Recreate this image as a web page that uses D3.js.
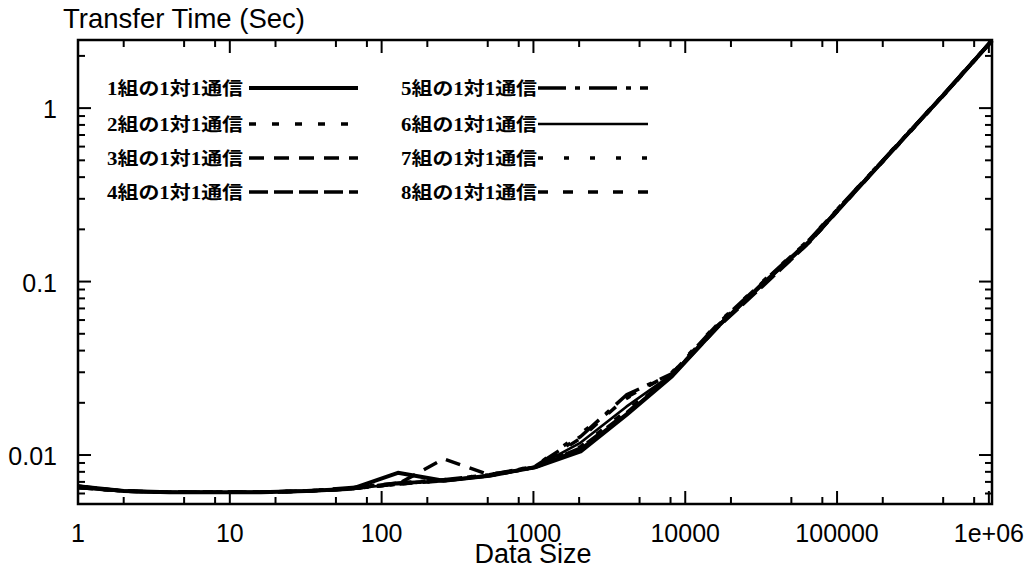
<!DOCTYPE html>
<html>
<head>
<meta charset="utf-8">
<script src="https://cdn.jsdelivr.net/npm/d3@7"></script>
<style>
  html, body { margin: 0; padding: 0; background: #fff; }
  svg { display: block; }
</style>
</head>
<body>
<svg id="chart" width="1033" height="576"></svg>
<script>
// Message sizes (bytes): powers of two from 1 to 2^20
const sizes = [1, 2, 4, 8, 16, 32, 64, 128, 256, 512, 1024, 2048, 4096, 8192,
  16384, 32768, 65536, 131072, 262144, 524288, 1048576];

// Transfer time (sec) for N simultaneous one-to-one pairs
const pairs1 = [0.0066, 0.0062, 0.0061, 0.0061, 0.0061, 0.0062, 0.0064, 0.0079, 0.0071, 0.0076, 0.0085, 0.0105, 0.0170, 0.0285, 0.0550, 0.0980, 0.170, 0.330, 0.640, 1.24, 2.45];
const pairs2 = [0.0065, 0.0062, 0.0061, 0.0061, 0.0061, 0.0062, 0.0064, 0.0068, 0.0071, 0.0076, 0.0085, 0.0112, 0.0180, 0.0290, 0.0560, 0.0960, 0.168, 0.328, 0.635, 1.23, 2.44];
const pairs3 = [0.0065, 0.0062, 0.0061, 0.0061, 0.0061, 0.0062, 0.0064, 0.0068, 0.0095, 0.0077, 0.0085, 0.0110, 0.0175, 0.0290, 0.0550, 0.0990, 0.172, 0.332, 0.640, 1.24, 2.45];
const pairs4 = [0.0066, 0.0062, 0.0061, 0.0061, 0.0061, 0.0062, 0.0064, 0.0069, 0.0071, 0.0076, 0.0085, 0.0108, 0.0172, 0.0288, 0.0545, 0.0950, 0.168, 0.330, 0.642, 1.24, 2.46];
const pairs5 = [0.0065, 0.0062, 0.0061, 0.0061, 0.0061, 0.0062, 0.0065, 0.0069, 0.0072, 0.0077, 0.0086, 0.0128, 0.0222, 0.0295, 0.0570, 0.1000, 0.174, 0.335, 0.645, 1.25, 2.46];
const pairs6 = [0.0065, 0.0062, 0.0061, 0.0061, 0.0061, 0.0062, 0.0064, 0.0068, 0.0071, 0.0076, 0.0085, 0.0118, 0.0190, 0.0292, 0.0560, 0.0970, 0.170, 0.330, 0.640, 1.24, 2.45];
const pairs7 = [0.0065, 0.0062, 0.0061, 0.0061, 0.0061, 0.0062, 0.0064, 0.0068, 0.0072, 0.0077, 0.0086, 0.0133, 0.0212, 0.0300, 0.0575, 0.1010, 0.175, 0.336, 0.648, 1.25, 2.47];
const pairs8 = [0.0066, 0.0062, 0.0061, 0.0061, 0.0061, 0.0062, 0.0064, 0.0068, 0.0071, 0.0076, 0.0085, 0.0125, 0.0215, 0.0296, 0.0565, 0.0990, 0.172, 0.333, 0.643, 1.24, 2.46];

const seriesNames = ["1組の1対1通信", "2組の1対1通信", "3組の1対1通信", "4組の1対1通信",
  "5組の1対1通信", "6組の1対1通信", "7組の1対1通信", "8組の1対1通信"];

// Axis tick labels
const xTickValues = [1, 10, 100, 1000, 10000, 100000, 1000000];
const xTickLabels = ["1", "10", "100", "1000", "10000", "100000", "1e+06"];
const yTickValues = [0.01, 0.1, 1];
const yTickLabels = ["0.01", "0.1", "1"];

const allSeries = [pairs1, pairs2, pairs3, pairs4, pairs5, pairs6, pairs7, pairs8];

// line styles per series (dash pattern, width)
const styles = [
  { dash: null, w: 4 },
  { dash: "7,16", w: 3.5 },
  { dash: "15,10", w: 3.5 },
  { dash: "19,6", w: 3.5 },
  { dash: "28,9,5,9", w: 3.5 },
  { dash: null, w: 2.6 },
  { dash: "5,21", w: 3.5 },
  { dash: "10,15", w: 3.5 }
];

const svg = d3.select("#chart");
const plotLeft = 78, plotRight = 992, plotTop = 40, plotBottom = 504;

const x = d3.scaleLog().domain([1, 1048576]).range([plotLeft, plotRight]);
const y = d3.scaleLog().domain([0.00522, 2.47]).range([plotBottom, plotTop]);

// minor ticks
const xMinor = [];
for (let e = 0; e <= 6; e++) for (const m of [2, 5, 8]) {
  const v = m * Math.pow(10, e);
  if (v < 1048576) xMinor.push(v);
}
const yMinor = [];
for (let e = -3; e <= 0; e++) for (let m = 2; m <= 9; m++) {
  const v = m * Math.pow(10, e);
  if (v > 0.00522 && v < 2.47) yMinor.push(v);
}

const axisG = svg.append("g").attr("stroke", "#000").attr("stroke-width", 2);
const MAJ = 13, MIN = 7;
// bottom and top ticks
xTickValues.forEach(v => {
  const px = x(v);
  axisG.append("line").attr("x1", px).attr("x2", px).attr("y1", plotBottom).attr("y2", plotBottom - MAJ);
  axisG.append("line").attr("x1", px).attr("x2", px).attr("y1", plotTop).attr("y2", plotTop + MAJ);
});
xMinor.forEach(v => {
  const px = x(v);
  axisG.append("line").attr("x1", px).attr("x2", px).attr("y1", plotBottom).attr("y2", plotBottom - MIN);
  axisG.append("line").attr("x1", px).attr("x2", px).attr("y1", plotTop).attr("y2", plotTop + MIN);
});
// left and right ticks
yTickValues.forEach(v => {
  const py = y(v);
  axisG.append("line").attr("x1", plotLeft).attr("x2", plotLeft + MAJ).attr("y1", py).attr("y2", py);
  axisG.append("line").attr("x1", plotRight).attr("x2", plotRight - MAJ).attr("y1", py).attr("y2", py);
});
yMinor.forEach(v => {
  const py = y(v);
  axisG.append("line").attr("x1", plotLeft).attr("x2", plotLeft + MIN).attr("y1", py).attr("y2", py);
  axisG.append("line").attr("x1", plotRight).attr("x2", plotRight - MIN).attr("y1", py).attr("y2", py);
});

// tick labels
const labelFont = "'Liberation Sans', Arial, Helvetica, sans-serif";
svg.append("g").selectAll("text").data(xTickValues).join("text")
  .attr("x", d => x(d)).attr("y", 542)
  .attr("text-anchor", "middle")
  .attr("font-family", labelFont).attr("font-size", 25)
  .text((d, i) => xTickLabels[i]);
svg.append("g").selectAll("text").data(yTickValues).join("text")
  .attr("x", 57).attr("y", d => y(d) + 10)
  .attr("text-anchor", "end")
  .attr("font-family", labelFont).attr("font-size", 25)
  .text((d, i) => yTickLabels[i]);

// axis titles
svg.append("text").attr("x", 63).attr("y", 28)
  .attr("font-family", labelFont).attr("font-size", 27.5)
  .text("Transfer Time (Sec)");
svg.append("text").attr("x", 533).attr("y", 563)
  .attr("text-anchor", "middle")
  .attr("font-family", labelFont).attr("font-size", 27)
  .text("Data Size");

// data lines
const line = d3.line()
  .x((d, i) => x(sizes[i]))
  .y(d => y(d));

const plot = svg.append("g");
[7, 6, 5, 4, 3, 2, 1, 0].forEach(k => {
  plot.append("path")
    .attr("d", line(allSeries[k]))
    .attr("fill", "none")
    .attr("stroke", "#000")
    .attr("stroke-width", styles[k].w)
    .attr("stroke-linejoin", "round")
    .attr("stroke-dasharray", styles[k].dash);
});

// legend: two columns of four entries
const legendRows = [88, 124, 158, 192];
const legendCols = [{ tx: 107, lx1: 249, lx2: 358 }, { tx: 401, lx1: 538, lx2: 648 }];
const legend = svg.append("g");
seriesNames.forEach((name, i) => {
  const col = legendCols[Math.floor(i / 4)];
  const ry = legendRows[i % 4];
  legend.append("text")
    .attr("x", col.tx).attr("y", ry + 7)
    .attr("font-family", "'Liberation Serif', 'Noto Sans CJK JP', serif")
    .attr("font-weight", "bold")
    .attr("font-size", 18)
    .attr("textLength", 136)
    .attr("lengthAdjust", "spacingAndGlyphs")
    .text(name);
  legend.append("line")
    .attr("x1", col.lx1).attr("x2", col.lx2)
    .attr("y1", ry).attr("y2", ry)
    .attr("stroke", "#000")
    .attr("stroke-width", styles[i].w)
    .attr("stroke-dasharray", styles[i].dash);
});

// plot frame
svg.append("rect")
  .attr("x", plotLeft).attr("y", plotTop)
  .attr("width", plotRight - plotLeft).attr("height", plotBottom - plotTop)
  .attr("fill", "none").attr("stroke", "#000").attr("stroke-width", 2.5);
</script>
</body>
</html>
